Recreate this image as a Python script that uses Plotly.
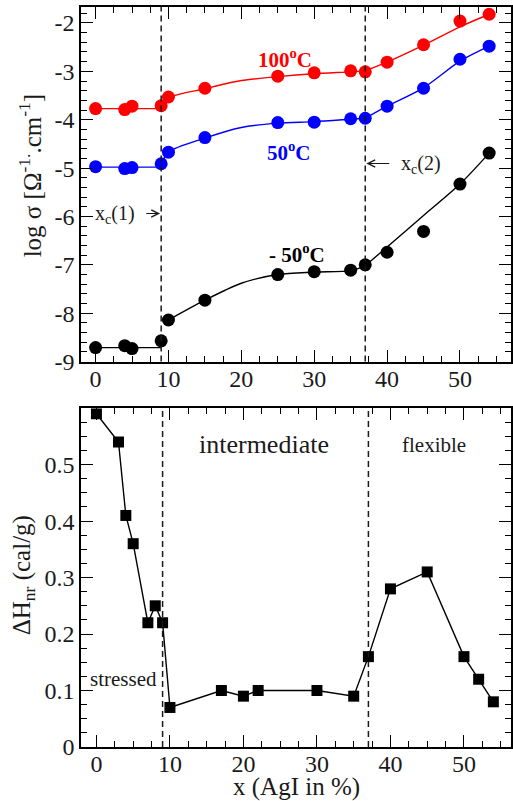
import plotly.graph_objects as go

# ---------------- conductivity data (log sigma vs AgI %) ----------------
x_sigma = [0, 4, 5, 9, 10, 15, 25, 30, 35, 37, 40, 45, 50, 54]
sigma_100C = [-3.77, -3.79, -3.72, -3.71, -3.53, -3.35, -3.10, -3.03, -2.99, -3.01, -2.81, -2.45, -1.96, -1.82]
sigma_50C = [-4.97, -5.01, -4.99, -4.91, -4.67, -4.37, -4.06, -4.05, -3.98, -3.97, -3.72, -3.35, -2.75, -2.48]
sigma_m50C = [-8.71, -8.67, -8.73, -8.57, -8.14, -7.73, -7.20, -7.14, -7.11, -7.00, -6.74, -6.31, -5.33, -4.69]

# guide-to-the-eye fit curves: (x knots, y knots) per segment
fit_flat_x = [0, 9]
fit_100C_flat = [-3.77, -3.77]
fit_50C_flat = [-4.98, -4.98]
fit_m50C_flat = [-8.71, -8.71]

fit_mid_x = [9, 10, 15, 20, 25, 30, 35, 37]
fit_100C_mid = [-3.73, -3.55, -3.36, -3.19, -3.11, -3.05, -3.01, -2.99]
fit_50C_mid = [-4.93, -4.67, -4.38, -4.16, -4.07, -4.04, -3.99, -3.97]
fit_m50C_mid_x = [10, 15, 20, 25, 30, 35, 37]
fit_m50C_mid = [-8.14, -7.73, -7.38, -7.20, -7.15, -7.12, -7.02]

fit_high_x = [37, 40, 45, 50, 54]
fit_100C_high = [-2.99, -2.81, -2.46, -2.08, -1.82]
fit_50C_high = [-3.97, -3.72, -3.34, -2.79, -2.48]
fit_m50C_high = [-7.02, -6.63, -5.98, -5.33, -4.69]

# ---------------- non-reversing enthalpy data ----------------
x_dh = [0, 3, 4, 5, 7, 8, 9, 10, 17, 20, 22, 30, 35, 37, 40, 45, 50, 52, 54]
dh_nr = [0.59, 0.54, 0.41, 0.36, 0.22, 0.25, 0.22, 0.07, 0.10, 0.09, 0.10, 0.10, 0.09, 0.16, 0.28, 0.31, 0.16, 0.12, 0.08]

# rigidity thresholds x_c(1), x_c(2)
x_thresholds = [9, 37]

# tick labels
sigma_ticks = [-9, -8, -7, -6, -5, -4, -3, -2]
sigma_ticktext = ["-9", "-8", "-7", "-6", "-5", "-4", "-3", "-2"]
dh_ticks = [0, 0.1, 0.2, 0.3, 0.4, 0.5]
dh_ticktext = ["0", "0.1", "0.2", "0.3", "0.4", "0.5"]
x_ticks = [0, 10, 20, 30, 40, 50]
x_ticktext = ["0", "10", "20", "30", "40", "50"]

SERIF = "Liberation Serif, Times New Roman, serif"
RED = "#ff0000"
BLUE = "#0000ff"
BLACK = "#000000"
INK = "#1a1a1a"

fig = go.Figure()


def add_fit(xs, ys, color, xa, ya):
    fig.add_trace(go.Scatter(
        x=xs, y=ys, mode="lines", xaxis=xa, yaxis=ya,
        line=dict(color=color, width=1.4, shape="spline", smoothing=0.8),
        hoverinfo="skip", showlegend=False))


for col, flat, mid, high in [(RED, fit_100C_flat, fit_100C_mid, fit_100C_high),
                             (BLUE, fit_50C_flat, fit_50C_mid, fit_50C_high)]:
    add_fit(fit_flat_x, flat, col, "x", "y")
    add_fit(fit_mid_x, mid, col, "x", "y")
    add_fit(fit_high_x, high, col, "x", "y")

add_fit(fit_flat_x, fit_m50C_flat, BLACK, "x", "y")
add_fit(fit_m50C_mid_x, fit_m50C_mid, BLACK, "x", "y")
add_fit(fit_high_x, fit_m50C_high, BLACK, "x", "y")

for ys, col in [(sigma_100C, RED), (sigma_50C, BLUE), (sigma_m50C, BLACK)]:
    fig.add_trace(go.Scatter(
        x=x_sigma, y=ys, mode="markers", xaxis="x", yaxis="y",
        marker=dict(symbol="circle", size=13, color=col, line=dict(width=0)),
        showlegend=False))

fig.add_trace(go.Scatter(
    x=x_dh, y=dh_nr, mode="lines+markers", xaxis="x2", yaxis="y2",
    line=dict(color=BLACK, width=1.4),
    marker=dict(symbol="square", size=11, color=BLACK, line=dict(width=0)),
    showlegend=False))

# dashed threshold lines in both panels
for xv in x_thresholds:
    for xr, yr in [("x", "y domain"), ("x2", "y2 domain")]:
        fig.add_shape(type="line", xref=xr, yref=yr, x0=xv, x1=xv, y0=0, y1=1,
                      line=dict(color=INK, width=1.5, dash="6px,4px"))

axis_common = dict(
    showgrid=False, zeroline=False, showline=True, linecolor=BLACK, linewidth=1.5,
    mirror="ticks", ticks="inside", ticklen=12, tickwidth=1.2, tickcolor=BLACK,
    tickfont=dict(family=SERIF, size=24, color=INK),
)
minor_x = dict(dtick=2.5, ticks="inside", ticklen=6, tickwidth=1.2, tickcolor=BLACK, showgrid=False)

fig.update_layout(
    width=513, height=801,
    margin=dict(l=81, r=0, t=7, b=54),
    paper_bgcolor="white", plot_bgcolor="white",
    xaxis=dict(domain=[0, 1], anchor="y", range=[-2, 57], ticklabelstandoff=-5,
               tickvals=x_ticks, ticktext=x_ticktext, minor=minor_x, **axis_common),
    yaxis=dict(domain=[0.5208, 1], anchor="x", range=[-9, -1.67],
               tickvals=sigma_ticks, ticktext=sigma_ticktext,
               minor=dict(dtick=0.2, ticks="inside", ticklen=6, tickwidth=1.2,
                          tickcolor=BLACK, showgrid=False),
               **axis_common),
    xaxis2=dict(domain=[0, 1], anchor="y2", range=[-2.1, 56.4], ticklabelstandoff=-6,
                tickvals=x_ticks, ticktext=x_ticktext, minor=minor_x, **axis_common),
    yaxis2=dict(domain=[0, 0.4579], anchor="x2", range=[0, 0.6],
                tickvals=dh_ticks, ticktext=dh_ticktext,
                minor=dict(dtick=0.025, ticks="inside", ticklen=6, tickwidth=1.2,
                           tickcolor=BLACK, showgrid=False),
                **axis_common),
)

ann = []
# axis titles
ann.append(dict(text="log σ [Ω<sup>-1.</sup>.cm<sup>-1</sup>]", xref="paper", yref="paper",
                x=-0.118, y=0.7715, xanchor="center", yanchor="middle",
                textangle=-90, showarrow=False,
                font=dict(family=SERIF, size=25, color=INK)))
ann.append(dict(text="ΔH<sub>nr</sub> (cal/g)", xref="paper", yref="paper",
                x=-0.135, y=0.232, xanchor="center", yanchor="middle",
                textangle=-90, showarrow=False,
                font=dict(family=SERIF, size=25, color=INK)))
ann.append(dict(text="x (AgI in %)", xref="paper", yref="paper",
                x=0.5, y=-0.0545, xanchor="center", yanchor="middle", showarrow=False,
                font=dict(family=SERIF, size=25, color=INK)))

# temperature labels
ann.append(dict(text="<b>100<sup>o</sup>C</b>", x=26.0, y=-2.73, xref="x", yref="y",
                xanchor="center", yanchor="middle",
                showarrow=False, font=dict(family=SERIF, size=21, color=RED)))
ann.append(dict(text="<b>50<sup>o</sup>C</b>", x=26.5, y=-4.65, xref="x", yref="y",
                xanchor="center", yanchor="middle",
                showarrow=False, font=dict(family=SERIF, size=21, color=BLUE)))
ann.append(dict(text="<b>- 50<sup>o</sup>C</b>", x=27.6, y=-6.76, xref="x", yref="y",
                xanchor="center", yanchor="middle",
                showarrow=False, font=dict(family=SERIF, size=21, color=BLACK)))

# threshold markers
ann.append(dict(text="x<sub>c</sub>(2)", x=41.6, y=-4.93, xref="x", yref="y",
                xanchor="left", yanchor="middle",
                showarrow=False, font=dict(family=SERIF, size=20, color=INK)))
ann.append(dict(text="", x=37.15, y=-4.905, ax=40.5, ay=-4.905, xref="x", yref="y",
                axref="x", ayref="y", showarrow=True, arrowhead=5, arrowsize=1.3,
                arrowwidth=1.1, arrowcolor=INK))
ann.append(dict(text="x<sub>c</sub>(1)", x=2.7, y=-5.96, xref="x", yref="y",
                xanchor="center", yanchor="middle",
                showarrow=False, font=dict(family=SERIF, size=20, color=INK)))
ann.append(dict(text="", x=8.85, y=-5.94, ax=6.75, ay=-5.94, xref="x", yref="y",
                axref="x", ayref="y", showarrow=True, arrowhead=5, arrowsize=1.3,
                arrowwidth=1.1, arrowcolor=INK))

# rigidity region labels
ann.append(dict(text="intermediate", x=22.8, y=0.535, xref="x2", yref="y2",
                xanchor="center", yanchor="middle",
                showarrow=False, font=dict(family=SERIF, size=26, color=INK)))
ann.append(dict(text="flexible", x=45.9, y=0.535, xref="x2", yref="y2",
                xanchor="center", yanchor="middle",
                showarrow=False, font=dict(family=SERIF, size=21, color=INK)))
ann.append(dict(text="stressed", x=3.66, y=0.12, xref="x2", yref="y2",
                xanchor="center", yanchor="middle",
                showarrow=False, font=dict(family=SERIF, size=21, color=INK)))

fig.update_layout(annotations=ann)

fig.write_html("out.html")
